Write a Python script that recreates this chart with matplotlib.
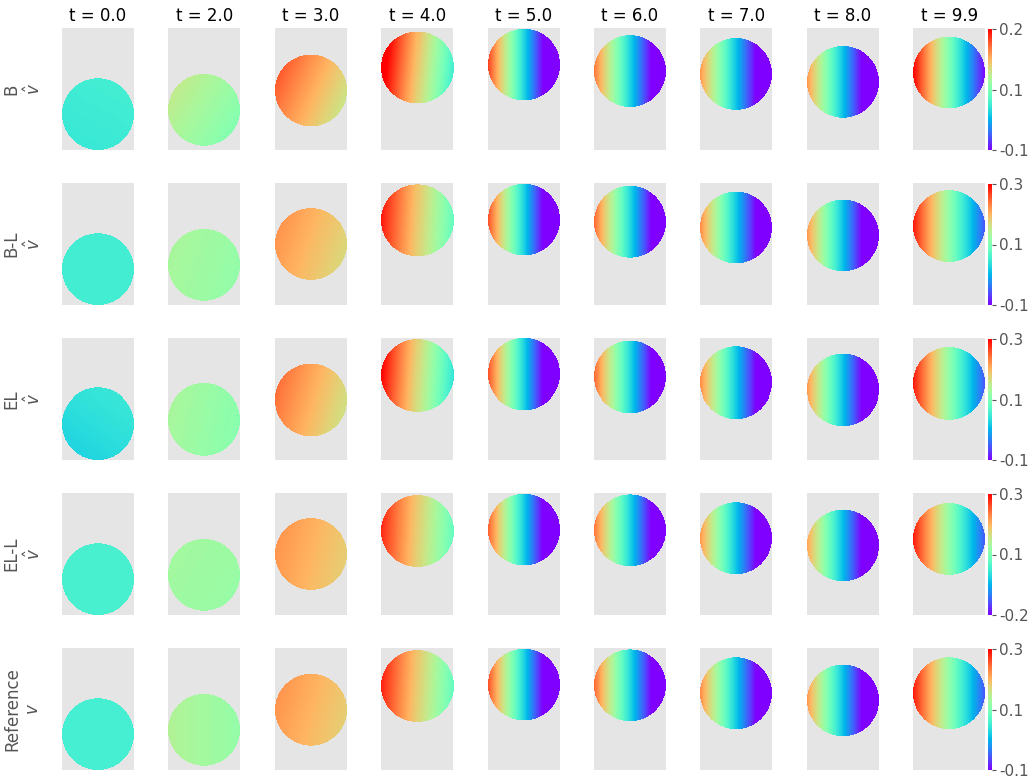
import matplotlib
matplotlib.use("Agg")
import matplotlib.pyplot as plt
import numpy as np

# time stamps (columns) and models (rows)
times = [0.0, 2.0, 3.0, 4.0, 5.0, 6.0, 7.0, 8.0, 9.9]
row_labels = ["B\n$\\hat{v}$", "B-L\n$\\hat{v}$", "EL\n$\\hat{v}$",
              "EL-L\n$\\hat{v}$", "Reference\n$v$"]

# colour range of each row
vmins = [-0.10, -0.10, -0.10, -0.16, -0.10]
vmaxs = [0.22, 0.27, 0.27, 0.28, 0.27]

# height of the disk centre in the box (box is 1 wide, 1.7 tall, disk radius 0.5)
center_y = [
    [0.50, 0.56, 0.83, 1.15, 1.19, 1.10, 1.06, 0.95, 1.08],
    [0.50, 0.56, 0.85, 1.18, 1.19, 1.16, 1.08, 0.97, 1.10],
    [0.50, 0.56, 0.83, 1.17, 1.19, 1.15, 1.07, 0.97, 1.06],
    [0.50, 0.56, 0.85, 1.17, 1.19, 1.18, 1.07, 0.97, 1.06],
    [0.50, 0.56, 0.84, 1.17, 1.19, 1.18, 1.07, 0.97, 1.07],
]

# value of v at the left and right edge of the disk
v_left = [
    [0.018, 0.098, 0.180, 0.236, 0.194, 0.172, 0.156, 0.156, 0.220],
    [0.041, 0.115, 0.196, 0.259, 0.233, 0.222, 0.203, 0.196, 0.259],
    [0.020, 0.115, 0.215, 0.270, 0.233, 0.222, 0.203, 0.196, 0.259],
    [0.012, 0.090, 0.192, 0.258, 0.227, 0.214, 0.192, 0.183, 0.267],
    [0.044, 0.122, 0.196, 0.255, 0.233, 0.222, 0.203, 0.196, 0.259],
]
v_right = [
    [0.021, 0.066, 0.110, 0.022, -0.190, -0.170, -0.175, -0.180, -0.100],
    [0.041, 0.100, 0.152, 0.066, -0.204, -0.181, -0.186, -0.192, -0.060],
    [0.031, 0.092, 0.144, 0.030, -0.204, -0.181, -0.186, -0.192, -0.060],
    [0.012, 0.082, 0.148, 0.038, -0.283, -0.257, -0.262, -0.270, -0.110],
    [0.044, 0.100, 0.159, 0.066, -0.204, -0.181, -0.186, -0.192, -0.060],
]
# top minus bottom difference across the disk
v_tilt = [
    [0.005, 0.020, 0.030, 0.020, 0.0, 0.0, 0.0, 0.0, 0.0],
    [0.0, 0.005, 0.015, 0.010, 0.0, 0.0, 0.0, 0.0, 0.0],
    [0.015, 0.005, 0.020, 0.015, 0.0, 0.0, 0.0, 0.0, 0.0],
    [0.0, 0.005, 0.010, 0.010, 0.0, 0.0, 0.0, 0.0, 0.0],
    [0.0, 0.0, 0.010, 0.010, 0.0, 0.0, 0.0, 0.0, 0.0],
]

W, H = 1033, 783
fig = plt.figure(figsize=(W / 100, H / 100), dpi=100)

box_h = 1.7
nx, ny = 72, 122
xs = (np.arange(nx) + 0.5) / nx
ys = (np.arange(ny) + 0.5) / ny * box_h
X, Y = np.meshgrid(xs, ys)

for i in range(len(row_labels)):
    top = 28 + 155 * i
    for j, t in enumerate(times):
        left = 62 + 106.4 * j
        ax = fig.add_axes([left / W, 1 - (top + 122) / H, 72 / W, 122 / H])
        ax.set_facecolor("#E5E5E5")
        cy = center_y[i][j]
        field = v_left[i][j] + (v_right[i][j] - v_left[i][j]) * X + v_tilt[i][j] * (Y - cy)
        mask = (X - 0.5) ** 2 + (Y - cy) ** 2 > 0.25
        field = np.ma.masked_array(field, mask)
        im = ax.imshow(field, origin="lower", extent=[0, 1, 0, box_h], cmap="rainbow",
                       vmin=vmins[i], vmax=vmaxs[i], aspect="auto", interpolation="nearest")
        ax.set_xlim(0, 1)
        ax.set_ylim(0, box_h)
        ax.set_xticks([])
        ax.set_yticks([])
        for s in ax.spines.values():
            s.set_visible(False)
        if i == 0:
            ax.set_title(f"t = {t:.1f}", fontsize=12, pad=5)

    cax = fig.add_axes([988 / W, 1 - (top + 122) / H, 4 / W, 121 / H])
    mid = (vmins[i] + vmaxs[i]) / 2
    cb = fig.colorbar(im, cax=cax, ticks=[vmins[i], mid, vmaxs[i]])
    cb.outline.set_visible(False)
    cb.ax.set_yticklabels([f"{v:.1f}" for v in [vmins[i], mid, vmaxs[i]]])
    cb.ax.tick_params(labelsize=11, labelcolor="#555555", color="#555555", length=3, pad=2)

    fig.text(23 / W, 1 - (top + 61) / H, row_labels[i], rotation=90, ha="center", va="center",
             multialignment="center", fontsize=12, color="#555555")

fig.savefig("out.png", dpi=100)
